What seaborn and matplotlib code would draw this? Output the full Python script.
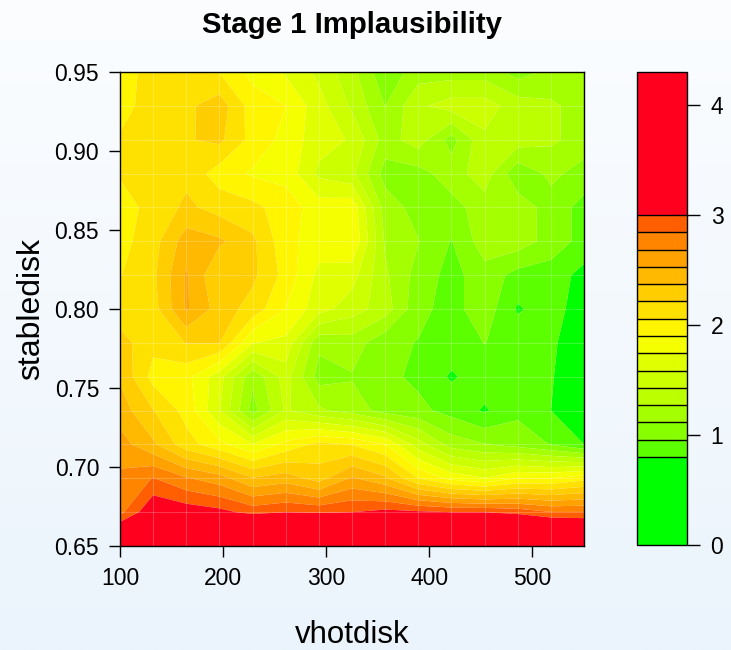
import numpy as np
import matplotlib
matplotlib.use("Agg")
import matplotlib.pyplot as plt
import seaborn as sns
from matplotlib.colors import LinearSegmentedColormap

# ---- data -------------------------------------------------------------
vhotdisk = [100.0, 132.1, 164.3, 196.4, 228.6, 260.7, 292.9, 325.0,
            357.1, 389.3, 421.4, 453.6, 485.7, 517.9, 550.0]
stabledisk = [0.65, 0.6714, 0.6929, 0.7143, 0.7357, 0.7571, 0.7786, 0.80,
              0.8214, 0.8429, 0.8643, 0.8857, 0.9071, 0.9286, 0.95]

# rows: stabledisk from 0.65 (first) to 0.95 (last); columns: vhotdisk
imp_row00 = [3.50, 4.00, 4.10, 4.00, 3.90, 3.95, 4.00, 4.10, 4.20, 4.28, 4.10, 4.00, 3.90, 3.80, 3.70]
imp_row01 = [2.80, 3.15, 3.10, 3.05, 2.95, 3.00, 2.98, 3.00, 3.05, 3.03, 3.00, 3.00, 2.95, 2.85, 2.85]
imp_row02 = [2.72, 2.85, 2.70, 2.60, 2.38, 2.45, 2.30, 2.55, 2.40, 2.05, 1.85, 1.75, 1.90, 1.90, 2.00]
imp_row03 = [2.60, 2.40, 2.12, 1.95, 1.75, 1.95, 2.10, 2.05, 1.90, 1.50, 1.20, 1.12, 1.05, 0.95, 0.80]
imp_row04 = [2.45, 2.22, 2.00, 1.60, 1.05, 1.45, 1.30, 1.20, 1.05, 1.00, 0.90, 0.78, 0.92, 0.80, 0.65]
imp_row05 = [2.35, 2.00, 1.95, 1.65, 1.15, 1.50, 1.05, 1.10, 1.00, 0.92, 0.78, 0.88, 0.85, 0.82, 0.60]
imp_row06 = [2.28, 2.10, 2.22, 2.22, 1.75, 1.70, 1.15, 1.20, 1.00, 0.95, 0.88, 0.96, 0.90, 0.85, 0.60]
imp_row07 = [2.12, 2.15, 2.55, 2.30, 2.15, 1.90, 1.65, 1.50, 1.35, 1.00, 0.90, 1.05, 0.78, 0.88, 0.70]
imp_row08 = [2.05, 2.18, 2.55, 2.22, 2.25, 2.00, 1.70, 1.65, 1.30, 1.05, 0.90, 1.05, 0.90, 0.88, 0.75]
imp_row09 = [2.00, 2.15, 2.45, 2.40, 2.25, 1.95, 1.82, 1.90, 1.25, 1.12, 0.95, 1.20, 1.20, 1.05, 0.90]
imp_row10 = [2.00, 2.10, 2.25, 2.15, 2.10, 1.98, 1.82, 1.85, 1.20, 1.05, 1.05, 1.20, 1.20, 1.05, 0.90]
imp_row11 = [2.07, 2.15, 2.17, 1.98, 1.88, 1.85, 1.55, 1.47, 1.05, 1.05, 1.20, 1.35, 1.00, 1.15, 1.05]
imp_row12 = [2.08, 2.18, 2.20, 2.25, 2.00, 1.85, 1.65, 1.57, 1.20, 1.35, 1.05, 1.40, 1.35, 1.30, 1.20]
imp_row13 = [1.98, 2.15, 2.18, 2.30, 1.98, 1.90, 1.65, 1.40, 1.11, 1.40, 1.50, 1.50, 1.35, 1.30, 1.20]
imp_row14 = [1.95, 2.15, 2.18, 2.05, 1.85, 1.72, 1.55, 1.32, 1.00, 1.20, 1.20, 1.20, 1.05, 1.15, 1.15]

levels = [0.0, 0.8, 0.957, 1.114, 1.271, 1.429, 1.586, 1.743, 1.9,
          2.057, 2.214, 2.371, 2.529, 2.686, 2.843, 3.0, 4.3]
band_colors = ['#00FF00', '#5CFF00', '#88FF00', '#A4FF00', '#BBFF00', '#CCFF00',
               '#E0FF00', '#F5FF00', '#FFF500', '#FFE100', '#FFCD00', '#FFB900',
               '#FFA200', '#FF8500', '#FF5F00', '#FF001E']

x_ticks = [100, 200, 300, 400, 500]
y_ticks = [0.65, 0.70, 0.75, 0.80, 0.85, 0.90, 0.95]
cbar_ticks = [0, 1, 2, 3, 4]

# ---- plot -------------------------------------------------------------
sns.set_theme(style="ticks")
plt.rcParams['font.family'] = ['Liberation Sans', 'DejaVu Sans']

Z = np.array([imp_row00, imp_row01, imp_row02, imp_row03, imp_row04,
              imp_row05, imp_row06, imp_row07, imp_row08, imp_row09,
              imp_row10, imp_row11, imp_row12, imp_row13, imp_row14])

fig = plt.figure(figsize=(7.31, 6.5), dpi=100, facecolor='#f3f8fd')
W, H = 731.0, 650.0

# soft vertical background gradient (white at top, pale blue at bottom)
bgax = fig.add_axes([0, 0, 1, 1], zorder=-10)
grad = np.linspace(0, 1, 256).reshape(-1, 1)
bg_cmap = LinearSegmentedColormap.from_list('bg', ['#fbfdff', '#ebf4fc'])
bgax.imshow(grad, aspect='auto', cmap=bg_cmap, extent=[0, 1, 0, 1],
            origin='upper')
bgax.axis('off')

ax = fig.add_axes([120 / W, 104 / H, 464 / W, 474 / H])

cs = ax.contourf(vhotdisk, stabledisk, Z, levels=levels, colors=band_colors,
                 antialiased=True)
ax.vlines(vhotdisk[1:-1], stabledisk[0], stabledisk[-1], colors='white',
          alpha=0.22, lw=0.8)
ax.hlines(stabledisk[1:-1], vhotdisk[0], vhotdisk[-1], colors='white',
          alpha=0.22, lw=0.8)

ax.set_xlim(vhotdisk[0], vhotdisk[-1])
ax.set_ylim(stabledisk[0], stabledisk[-1])
ax.set_xticks(x_ticks)
ax.set_yticks(y_ticks)
ax.set_yticklabels([f"{v:.2f}" for v in y_ticks])
ax.tick_params(direction='out', length=8, width=1, labelsize=16.5,
               colors='black', pad=7)
for s in ax.spines.values():
    s.set_color('black')
    s.set_linewidth(1)

ax.set_xlabel('vhotdisk', fontsize=22.5, labelpad=22, color='black')
ax.set_ylabel('stabledisk', fontsize=23, labelpad=6, color='black')
ax.set_title('Stage 1 Implausibility', fontsize=21.2, fontweight='bold',
             pad=28, color='black')

cax = fig.add_axes([637 / W, 105 / H, 50 / W, 473 / H])
cb = fig.colorbar(cs, cax=cax, ticks=cbar_ticks, drawedges=True,
                  spacing='proportional')
cb.dividers.set_color('black')
cb.dividers.set_linewidth(1)
cb.outline.set_edgecolor('black')
cb.outline.set_linewidth(1)
cax.tick_params(direction='out', length=9, width=1, labelsize=16.5,
                colors='black', pad=8)

fig.savefig('out.png', dpi=100)
